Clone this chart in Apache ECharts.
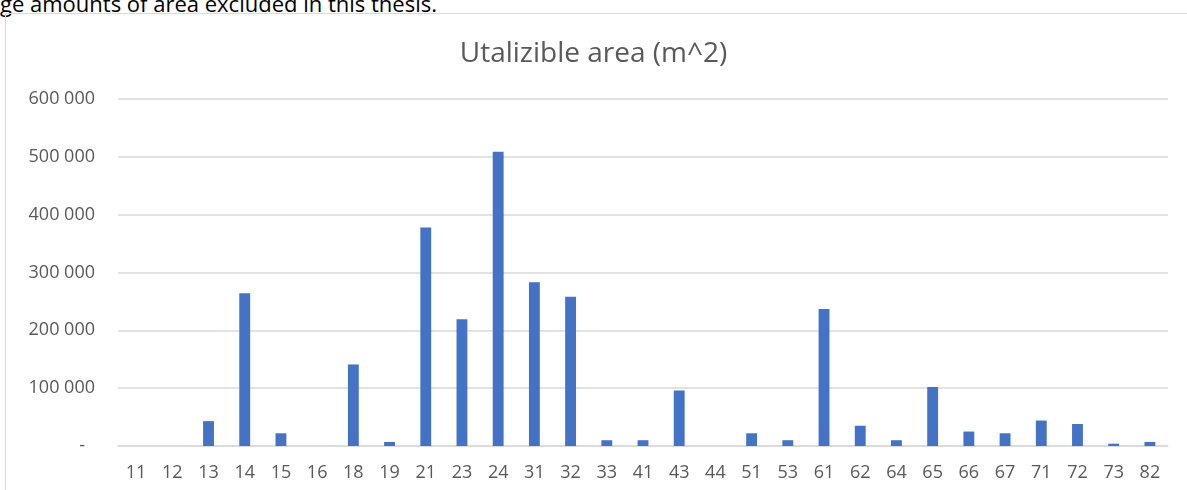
<!DOCTYPE html>
<html>
<head>
<meta charset="utf-8">
<title>Utalizible area (m^2)</title>
<script src="https://cdn.jsdelivr.net/npm/echarts@6/dist/echarts.min.js"></script>
<style>
  html, body { margin: 0; padding: 0; background: #ffffff; overflow: hidden; }
  #page { position: relative; width: 1187px; height: 490px; overflow: hidden; }
  #lead {
    position: absolute; left: 0; top: -10px; margin: 0;
    font-family: "Open Sans", sans-serif; font-size: 22px; color: #000000;
    white-space: nowrap; line-height: 26px;
  }
  #frame {
    position: absolute; left: 5px; top: 13px; width: 1200px; height: 500px;
    border: 1px solid #d9d9d9; box-sizing: border-box;
  }
  #chart { position: absolute; left: 0; top: 0; width: 1187px; height: 490px; }
</style>
</head>
<body>
<div id="page">
  <p id="lead">ge amounts of area excluded in this thesis.</p>
  <div id="frame"></div>
  <div id="chart"></div>
</div>
<script>
// Land-use codes along the category axis
const categories = ['11', '12', '13', '14', '15', '16', '18', '19', '21', '23', '24', '31', '32', '33', '41',
                    '43', '44', '51', '53', '61', '62', '64', '65', '66', '67', '71', '72', '73', '82'];

// Utilizable area per code, m^2
const areaValues = [0, 0, 43000, 264000, 22000, 0, 141000, 7000, 378000, 219000, 509000, 283000, 258000, 10000, 10000,
                    96000, 0, 22000, 10000, 237000, 35000, 10000, 102000, 25000, 22000, 44000, 38000, 4000, 7000];

// Value-axis ticks
const yTicks = [0, 100000, 200000, 300000, 400000, 500000, 600000];

const chartTitle = 'Utalizible area (m^2)';

const FONT = '"Open Sans", sans-serif';
const GREY_TEXT = '#595959';
const LABEL_SIZE = 18;

function formatThousands(v) {
  if (v === 0) return '{z|-}';
  return String(v).replace(/\B(?=(\d{3})+(?!\d))/g, ' ');
}

const chart = echarts.init(document.getElementById('chart'), null, { renderer: 'canvas' });

chart.setOption({
  animation: false,
  backgroundColor: 'transparent',
  title: {
    text: chartTitle,
    left: 'center',
    top: 35,
    textStyle: { fontFamily: FONT, fontSize: 28, fontWeight: 'normal', color: GREY_TEXT }
  },
  grid: { left: 118, right: 19, top: 99, bottom: 44, containLabel: false },
  xAxis: {
    type: 'category',
    data: categories,
    axisLine: { show: true, lineStyle: { color: '#d9d9d9', width: 1.5 } },
    axisTick: { show: false },
    axisLabel: { interval: 0, margin: 18, fontFamily: FONT, fontSize: LABEL_SIZE, color: GREY_TEXT }
  },
  yAxis: {
    type: 'value',
    min: yTicks[0],
    max: yTicks[yTicks.length - 1],
    interval: yTicks[1] - yTicks[0],
    axisLine: { show: false },
    axisTick: { show: false },
    splitLine: { lineStyle: { color: '#d9d9d9', width: 1.5 } },
    axisLabel: {
      margin: 23,
      fontFamily: FONT,
      fontSize: LABEL_SIZE,
      color: GREY_TEXT,
      formatter: formatThousands,
      rich: {
        z: { fontFamily: FONT, fontSize: LABEL_SIZE, color: GREY_TEXT, padding: [0, 10, 0, 0] }
      }
    }
  },
  series: [{
    type: 'bar',
    data: areaValues,
    barCategoryGap: '70%',
    itemStyle: { color: '#4472c4' }
  }]
});
</script>
</body>
</html>
